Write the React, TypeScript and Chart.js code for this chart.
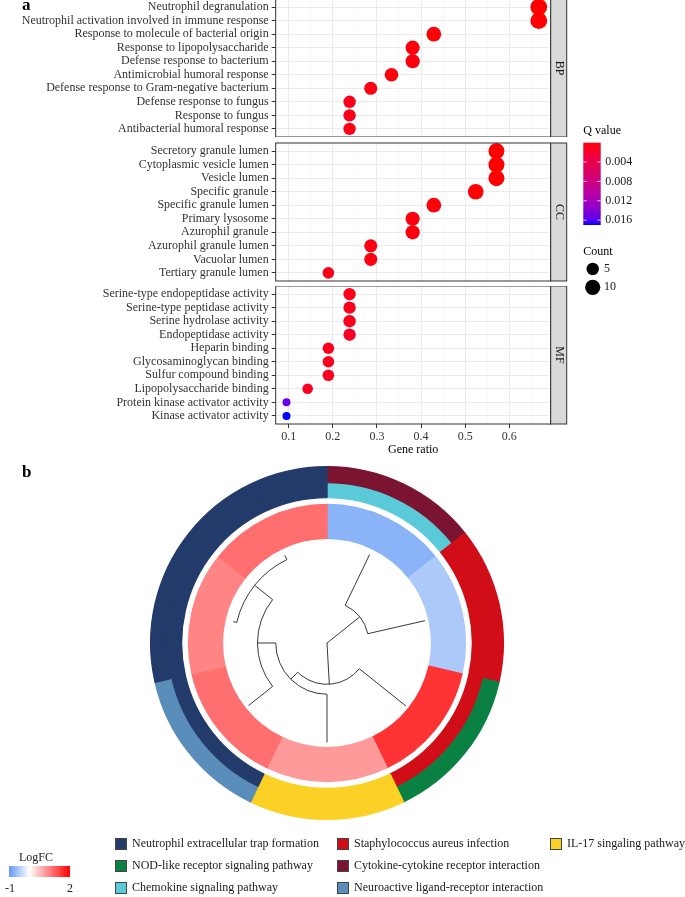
import React, { useEffect, useRef } from "react";
import { Chart, registerables } from "chart.js";
Chart.register(...registerables);

const FONT = '"Liberation Serif", "Times New Roman", serif';
const FS = 12;

// ---------------- Panel a data ----------------
const BP_TERMS = [
  "Neutrophil degranulation",
  "Neutrophil activation involved in immune response",
  "Response to molecule of bacterial origin",
  "Response to lipopolysaccharide",
  "Defense response to bacterium",
  "Antimicrobial humoral response",
  "Defense response to Gram-negative bacterium",
  "Defense response to fungus",
  "Response to fungus",
  "Antibacterial humoral response",
];
const BP_RATIO = [0.667, 0.667, 0.429, 0.381, 0.381, 0.333, 0.286, 0.238, 0.238, 0.238];
const BP_COUNT = [14, 14, 9, 8, 8, 7, 6, 5, 5, 5];
const BP_Q = [0.00001, 0.00001, 0.0002, 0.0003, 0.0004, 0.0003, 0.0006, 0.0008, 0.0009, 0.0007];

const CC_TERMS = [
  "Secretory granule lumen",
  "Cytoplasmic vesicle lumen",
  "Vesicle lumen",
  "Specific granule",
  "Specific granule lumen",
  "Primary lysosome",
  "Azurophil granule",
  "Azurophil granule lumen",
  "Vacuolar lumen",
  "Tertiary granule lumen",
];
const CC_RATIO = [0.571, 0.571, 0.571, 0.524, 0.429, 0.381, 0.381, 0.286, 0.286, 0.190];
const CC_COUNT = [12, 12, 12, 11, 9, 8, 8, 6, 6, 4];
const CC_Q = [0.00001, 0.00001, 0.00001, 0.0001, 0.0002, 0.0004, 0.0004, 0.0006, 0.0006, 0.0008];

const MF_TERMS = [
  "Serine-type endopeptidase activity",
  "Serine-type peptidase activity",
  "Serine hydrolase activity",
  "Endopeptidase activity",
  "Heparin binding",
  "Glycosaminoglycan binding",
  "Sulfur compound binding",
  "Lipopolysaccharide binding",
  "Protein kinase activator activity",
  "Kinase activator activity",
];
const MF_RATIO = [0.238, 0.238, 0.238, 0.238, 0.190, 0.190, 0.190, 0.143, 0.095, 0.095];
const MF_COUNT = [5, 5, 5, 5, 4, 4, 4, 3, 2, 2];
const MF_Q = [0.0009, 0.0009, 0.0010, 0.0014, 0.0010, 0.0011, 0.0011, 0.0013, 0.0152, 0.0170];

const X_MAJOR = [0.1, 0.2, 0.3, 0.4, 0.5, 0.6];
const X_MINOR = [0.15, 0.25, 0.35, 0.45, 0.55, 0.65];
const X_LIMITS = [0.0705, 0.694];
const Q_TICKS = [0.004, 0.008, 0.012, 0.016];
const COUNT_KEYS = [5, 10];

// ---------------- Panel b data ----------------
const GENES = ["Gene 1", "Gene 2", "Gene 3", "Gene 4", "Gene 5", "Gene 6", "Gene 7"];
const GENE_WEIGHT = [1, 1, 1, 1, 1, 1, 1];
const GENE_LOGFC = [-0.75, -0.53, 1.6, 0.79, 1.13, 0.96, 1.13];
const PATHWAYS = [
  "Neutrophil extracellular trap formation",
  "Staphylococcus aureus infection",
  "IL-17 singaling pathway",
  "NOD-like receptor signaling pathway",
  "Cytokine-cytokine receptor interaction",
  "Chemokine signaling pathway",
  "Neuroactive ligand-receptor interaction",
];
const PATHWAY_COLORS = ["#233B6A", "#D10D17", "#FCD125", "#0B8043", "#7A1430", "#5BCAD8", "#5A8DBA"];
const GENE_OUTER_PATHWAY = [4, 1, 3, 2, 6, 0, 0];
const GENE_INNER_PATHWAY = [5, 1, 1, 2, 0, 0, 0];
const LEAF_DEPTH = [0.94, 0.96, 0.965, 0.95, 0.96, 0.92, 0.93];
// child >= 0: leaf index; child < 0: internal node -(k+1)
const NODE_LEFT = [0, 5, 4, 3, 2, -1];
const NODE_RIGHT = [1, 6, -2, -3, -4, -5];
const NODE_DEPTH = [0.40, 0.885, 0.665, 0.49, 0.395, 0];
const LOGFC_STOPS = [-1, 0, 2];
const LOGFC_COLORS = ["#649AF5", "#FFFFFF", "#FF0000"];
const LOGFC_LABELS = ["-1", "2"];

// ---------------- colour helpers ----------------
function hexToRgb(h: string) {
  const n = parseInt(h.slice(1), 16);
  return [(n >> 16) & 255, (n >> 8) & 255, n & 255];
}
function toLin(c: number) { c /= 255; return c <= 0.04045 ? c / 12.92 : Math.pow((c + 0.055) / 1.055, 2.4); }
function fromLin(c: number) {
  const v = c <= 0.0031308 ? 12.92 * c : 1.055 * Math.pow(Math.max(c, 0), 1 / 2.4) - 0.055;
  return Math.round(Math.max(0, Math.min(1, v)) * 255);
}
function rgbToLab(rgb: number[]) {
  const R = toLin(rgb[0]), G = toLin(rgb[1]), B = toLin(rgb[2]);
  const X = (0.4124 * R + 0.3576 * G + 0.1805 * B) / 0.95047;
  const Y = 0.2126 * R + 0.7152 * G + 0.0722 * B;
  const Z = (0.0193 * R + 0.1192 * G + 0.9505 * B) / 1.08883;
  const f = (t: number) => (t > 0.008856 ? Math.cbrt(t) : 7.787 * t + 16 / 116);
  return [116 * f(Y) - 16, 500 * (f(X) - f(Y)), 200 * (f(Y) - f(Z))];
}
function labToRgb(lab: number[]) {
  const fy = (lab[0] + 16) / 116, fx = fy + lab[1] / 500, fz = fy - lab[2] / 200;
  const inv = (t: number) => (t * t * t > 0.008856 ? t * t * t : (t - 16 / 116) / 7.787);
  const X = inv(fx) * 0.95047, Y = inv(fy), Z = inv(fz) * 1.08883;
  return [
    fromLin(3.2406 * X - 1.5372 * Y - 0.4986 * Z),
    fromLin(-0.9689 * X + 1.8758 * Y + 0.0415 * Z),
    fromLin(0.0557 * X - 0.204 * Y + 1.057 * Z),
  ];
}
const ALL_Q = [...BP_Q, ...CC_Q, ...MF_Q];
const Q_MIN = Math.min(...ALL_Q);
const Q_MAX = Math.max(...ALL_Q);
const LAB_LOW = rgbToLab(hexToRgb("#FF0000"));
const LAB_HIGH = rgbToLab(hexToRgb("#0000FF"));
function qColor(q: number) {
  const t = Math.max(0, Math.min(1, (q - Q_MIN) / (Q_MAX - Q_MIN)));
  const c = labToRgb([0, 1, 2].map((i) => LAB_LOW[i] + (LAB_HIGH[i] - LAB_LOW[i]) * t));
  return `rgb(${c[0]},${c[1]},${c[2]})`;
}
function logfcColor(v: number) {
  let i = 0;
  while (i < LOGFC_STOPS.length - 2 && v > LOGFC_STOPS[i + 1]) i++;
  const t = Math.max(0, Math.min(1, (v - LOGFC_STOPS[i]) / (LOGFC_STOPS[i + 1] - LOGFC_STOPS[i])));
  const a = hexToRgb(LOGFC_COLORS[i]), b = hexToRgb(LOGFC_COLORS[i + 1]);
  const c = a.map((x, k) => Math.round(x + (b[k] - x) * t));
  return `rgb(${c[0]},${c[1]},${c[2]})`;
}

// size scale (ggplot-like area scale)
const ALL_COUNT = [...BP_COUNT, ...CC_COUNT, ...MF_COUNT];
const C_MIN = Math.min(...ALL_COUNT);
const C_MAX = Math.max(...ALL_COUNT);
const R_RANGE = [4.0, 8.4];
function radiusOf(c: number) {
  return R_RANGE[0] + (R_RANGE[1] - R_RANGE[0]) * Math.sqrt((c - C_MIN) / (C_MAX - C_MIN));
}

// ---------------- layout constants ----------------
const PANEL_LEFT = 275.7;
const PANEL_RIGHT_PAD = 685 - 550.7;
const STRIP_W = 16;

const isMajor = (v: number) => X_MAJOR.some((m) => Math.abs(m - v) < 1e-9);
const X_GRID = [...X_MAJOR, ...X_MINOR].sort((a, b) => a - b);

const facetPlugin = {
  id: "facet",
  afterDraw(chart: any, _args: any, opts: any) {
    const { ctx, chartArea: a } = chart;
    ctx.save();
    ctx.strokeStyle = "#333333";
    ctx.lineWidth = 1;
    ctx.strokeRect(a.left, a.top, a.right - a.left, a.bottom - a.top);
    ctx.fillStyle = "#D9D9D9";
    ctx.fillRect(a.right, a.top, STRIP_W, a.bottom - a.top);
    ctx.strokeRect(a.right, a.top, STRIP_W, a.bottom - a.top);
    ctx.translate(a.right + STRIP_W / 2, (a.top + a.bottom) / 2);
    ctx.rotate(Math.PI / 2);
    ctx.fillStyle = "#1A1A1A";
    ctx.font = `${FS}px ${FONT}`;
    ctx.textAlign = "center";
    ctx.textBaseline = "middle";
    ctx.fillText(opts.strip, 0, 0);
    ctx.restore();
  },
};

const panelLabelA = {
  id: "labelA",
  afterDraw(chart: any) {
    const ctx = chart.ctx;
    ctx.save();
    ctx.fillStyle = "#000";
    ctx.font = `bold 17px ${FONT}`;
    ctx.textBaseline = "alphabetic";
    ctx.fillText("a", 22, 11);
    ctx.restore();
  },
};

// legend for panel a drawn on the CC canvas (canvas top = 120)
const CC_TOP = 120;
const dotLegend = {
  id: "dotLegend",
  afterDraw(chart: any) {
    const ctx = chart.ctx;
    const oy = CC_TOP;
    const x0 = 583.3;
    ctx.save();
    ctx.font = `${FS}px ${FONT}`;
    ctx.fillStyle = "#000";
    ctx.textBaseline = "middle";
    ctx.textAlign = "left";
    ctx.fillText("Q value", x0, 131 - oy);
    const barTop = 142.7 - oy, barBot = 225 - oy, barW = 17.4;
    const g = ctx.createLinearGradient(0, barTop, 0, barBot);
    for (let i = 0; i <= 20; i++) g.addColorStop(i / 20, qColor(Q_MIN + ((Q_MAX - Q_MIN) * i) / 20));
    ctx.fillStyle = g;
    ctx.fillRect(x0, barTop, barW, barBot - barTop);
    ctx.strokeStyle = "rgba(255,255,255,0.9)";
    ctx.lineWidth = 0.8;
    ctx.fillStyle = "#1A1A1A";
    for (const q of Q_TICKS) {
      const y = barTop + ((q - Q_MIN) / (Q_MAX - Q_MIN)) * (barBot - barTop);
      ctx.beginPath();
      ctx.moveTo(x0, y); ctx.lineTo(x0 + 3.5, y);
      ctx.moveTo(x0 + barW - 3.5, y); ctx.lineTo(x0 + barW, y);
      ctx.stroke();
      ctx.fillText(q.toFixed(3), x0 + barW + 4.5, y);
    }
    ctx.fillStyle = "#000";
    ctx.fillText("Count", x0, 251.7 - oy);
    const ys = [269, 287.3];
    COUNT_KEYS.forEach((c, i) => {
      ctx.beginPath();
      ctx.arc(592.7, ys[i] - oy, radiusOf(c), 0, Math.PI * 2);
      ctx.fillStyle = "#000";
      ctx.fill();
      ctx.fillStyle = "#1A1A1A";
      ctx.fillText(String(c), 604, ys[i] - oy);
    });
    ctx.restore();
  },
};

function facetConfig(
  terms: string[], ratios: number[], counts: number[], qs: number[],
  strip: string, kind: "top" | "mid" | "bottom", extra: any[]
) {
  const isBottom = kind === "bottom";
  const pad =
    kind === "mid"
      ? { top: 23, bottom: 20, left: 0, right: PANEL_RIGHT_PAD }
      : { top: 0, bottom: 0, left: 0, right: PANEL_RIGHT_PAD };
  return {
    type: "bubble" as const,
    data: {
      datasets: [
        {
          data: terms.map((_t, i) => ({ x: ratios[i], y: i, r: radiusOf(counts[i]) })),
          backgroundColor: qs.map(qColor),
          borderWidth: 0,
          hoverBorderWidth: 0,
        },
      ],
    },
    options: {
      responsive: false,
      animation: false as const,
      events: [] as any[],
      layout: { padding: pad, autoPadding: false },
      plugins: { legend: { display: false }, tooltip: { enabled: false }, facet: { strip } },
      scales: {
        x: {
          type: "linear" as const,
          min: X_LIMITS[0],
          max: X_LIMITS[1],
          afterBuildTicks: (s: any) => { s.ticks = X_GRID.map((v) => ({ value: v })); },
          afterFit: (s: any) => { s.paddingLeft = 0; s.paddingRight = 0; s.height = isBottom ? 34 : 0; },
          border: { display: false },
          grid: {
            color: (c: any) => (isMajor(c.tick.value) ? "#EBEBEB" : "#F3F3F3"),
            lineWidth: (c: any) => (isMajor(c.tick.value) ? 1 : 0.6),
            drawTicks: isBottom,
            tickLength: 4,
            tickColor: (c: any) => (isMajor(c.tick.value) ? "#333333" : "rgba(0,0,0,0)"),
            tickWidth: 1,
          },
          ticks: {
            display: isBottom,
            autoSkip: false,
            maxRotation: 0,
            padding: 1.5,
            font: { family: FONT, size: FS },
            color: "#333333",
            callback: (v: any) => (isMajor(v) ? Number(v).toFixed(1) : ""),
          },
          title: {
            display: isBottom,
            text: "Gene ratio",
            font: { family: FONT, size: FS },
            color: "#000",
            padding: { top: 0, bottom: 1 },
          },
        },
        y: {
          type: "linear" as const,
          min: -0.6,
          max: terms.length - 0.4,
          reverse: true,
          afterBuildTicks: (s: any) => { s.ticks = terms.map((_t, i) => ({ value: i })); },
          afterFit: (s: any) => { s.width = PANEL_LEFT; s.paddingTop = 0; s.paddingBottom = 0; },
          border: { display: false },
          grid: { color: "#EBEBEB", lineWidth: 1, tickLength: 4, tickColor: "#333333", tickWidth: 1 },
          ticks: {
            autoSkip: false,
            padding: 3,
            font: { family: FONT, size: FS },
            color: "#333333",
            callback: (v: any) => terms[v] ?? "",
          },
        },
      },
    },
    plugins: [facetPlugin, ...extra],
  };
}

// ---------------- Panel b ----------------
const DONUT_TOP = 455;
const dendroPlugin = {
  id: "dendro",
  afterDatasetsDraw(chart: any) {
    const ctx = chart.ctx;
    const arcs = chart.getDatasetMeta(3).data as any[];
    const cx = arcs[0].x, cy = arcs[0].y, R = arcs[0].innerRadius;
    const leafAng = arcs.map((a) => (a.startAngle + a.endAngle) / 2);
    const nodeAng: number[] = [];
    const ang = (c: number) => (c >= 0 ? leafAng[c] : nodeAng[-c - 1]);
    const rad = (c: number) => (c >= 0 ? LEAF_DEPTH[c] : NODE_DEPTH[-c - 1]) * R;
    NODE_LEFT.forEach((l, k) => { nodeAng[k] = (ang(l) + ang(NODE_RIGHT[k])) / 2; });
    ctx.save();
    ctx.strokeStyle = "#222";
    ctx.lineWidth = 0.9;
    NODE_LEFT.forEach((l, k) => {
      const r = NODE_DEPTH[k] * R;
      const a1 = ang(l), a2 = ang(NODE_RIGHT[k]);
      if (r > 0) {
        ctx.beginPath();
        ctx.arc(cx, cy, r, Math.min(a1, a2), Math.max(a1, a2));
        ctx.stroke();
      }
      for (const c of [l, NODE_RIGHT[k]]) {
        const a = ang(c), rc = rad(c);
        ctx.beginPath();
        ctx.moveTo(cx + r * Math.cos(a), cy + r * Math.sin(a));
        ctx.lineTo(cx + rc * Math.cos(a), cy + rc * Math.sin(a));
        ctx.stroke();
      }
    });
    ctx.restore();
  },
};

const LEG_COL_X = [115, 337, 550];
const LEG_ROW_Y = [844, 866, 888];
const LEG_ROWS = [[0, 1, 2], [3, 4], [5, 6]];
const pathLegend = {
  id: "pathLegend",
  afterDraw(chart: any) {
    const ctx = chart.ctx;
    const oy = DONUT_TOP;
    ctx.save();
    ctx.fillStyle = "#000";
    ctx.font = `bold 17px ${FONT}`;
    ctx.textBaseline = "alphabetic";
    ctx.fillText("b", 22, 477 - oy);
    ctx.font = `${FS}px ${FONT}`;
    ctx.textBaseline = "middle";
    LEG_ROWS.forEach((row, ri) => {
      row.forEach((p, ci) => {
        const x = LEG_COL_X[ci], y = LEG_ROW_Y[ri] - oy;
        ctx.fillStyle = PATHWAY_COLORS[p];
        ctx.fillRect(x, y - 6, 12, 12);
        ctx.strokeStyle = "#444";
        ctx.lineWidth = 1;
        ctx.strokeRect(x + 0.5, y - 5.5, 11, 11);
        ctx.fillStyle = "#1A1A1A";
        ctx.fillText(PATHWAYS[p], x + 17, y);
      });
    });
    // LogFC colour legend
    ctx.textAlign = "center";
    ctx.fillStyle = "#1A1A1A";
    ctx.fillText("LogFC", 36, 858 - oy);
    const bx = 9, bw = 61, by = 866 - oy, bh = 11;
    const g = ctx.createLinearGradient(bx, 0, bx + bw, 0);
    const lo = LOGFC_STOPS[0], hi = LOGFC_STOPS[LOGFC_STOPS.length - 1];
    for (let i = 0; i <= 30; i++) g.addColorStop(i / 30, logfcColor(lo + ((hi - lo) * i) / 30));
    ctx.fillStyle = g;
    ctx.fillRect(bx, by, bw, bh);
    ctx.fillStyle = "#1A1A1A";
    ctx.fillText(LOGFC_LABELS[0], bx + 1, 889 - oy);
    ctx.fillText(LOGFC_LABELS[1], bx + bw, 889 - oy);
    ctx.restore();
  },
};

function donutConfig() {
  const R = 177;
  const cx = 327, cy = 643;
  const ring = (colors: string[], weight: number) => ({
    data: GENE_WEIGHT,
    backgroundColor: colors,
    borderColor: colors,
    borderWidth: 1.4,
    hoverOffset: 0,
    weight,
  });
  return {
    type: "doughnut" as const,
    data: {
      labels: GENES,
      datasets: [
        ring(GENE_OUTER_PATHWAY.map((p) => PATHWAY_COLORS[p]), 16),
        ring(GENE_INNER_PATHWAY.map((p) => PATHWAY_COLORS[p]), 15),
        { data: GENE_WEIGHT, backgroundColor: "rgba(0,0,0,0)", borderWidth: 0, hoverOffset: 0, weight: 7 },
        ring(GENE_LOGFC.map(logfcColor), 34),
      ],
    },
    options: {
      responsive: false,
      animation: false as const,
      events: [] as any[],
      cutout: `${(105 / 177) * 100}%`,
      layout: {
        autoPadding: false,
        padding: { left: cx - R, right: 685 - (cx + R), top: cy - R - DONUT_TOP, bottom: 897 - (cy + R) },
      },
      plugins: { legend: { display: false }, tooltip: { enabled: false } },
    },
    plugins: [dendroPlugin, pathLegend],
  };
}

export default function App() {
  const bpRef = useRef<HTMLCanvasElement>(null);
  const ccRef = useRef<HTMLCanvasElement>(null);
  const mfRef = useRef<HTMLCanvasElement>(null);
  const dRef = useRef<HTMLCanvasElement>(null);
  useEffect(() => {
    const charts = [
      new Chart(bpRef.current!, facetConfig(BP_TERMS, BP_RATIO, BP_COUNT, BP_Q, "BP", "top", [panelLabelA]) as any),
      new Chart(ccRef.current!, facetConfig(CC_TERMS, CC_RATIO, CC_COUNT, CC_Q, "CC", "mid", [dotLegend]) as any),
      new Chart(mfRef.current!, facetConfig(MF_TERMS, MF_RATIO, MF_COUNT, MF_Q, "MF", "bottom", []) as any),
      new Chart(dRef.current!, donutConfig() as any),
    ];
    return () => charts.forEach((c) => c.destroy());
  }, []);
  const cs = (top: number, h: number): React.CSSProperties => ({
    position: "absolute", left: 0, top, width: 685, height: h,
  });
  return (
    <div style={{ position: "absolute", left: 0, top: 0, width: 685, height: 897, background: "#fff", overflow: "hidden" }}>
      <canvas ref={bpRef} width={685} height={138} style={cs(-1, 138)} />
      <canvas ref={ccRef} width={685} height={181} style={cs(CC_TOP, 181)} />
      <canvas ref={mfRef} width={685} height={172} style={cs(286, 172)} />
      <canvas ref={dRef} width={685} height={897 - DONUT_TOP} style={cs(DONUT_TOP, 897 - DONUT_TOP)} />
    </div>
  );
}
